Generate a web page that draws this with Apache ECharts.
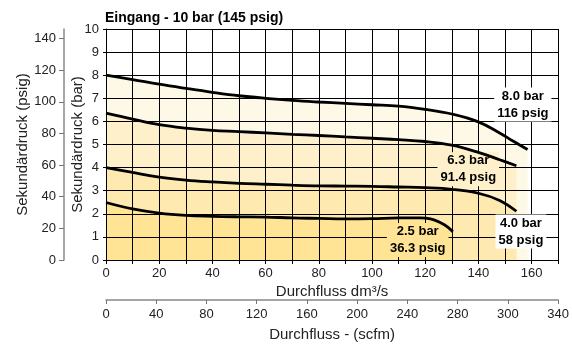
<!DOCTYPE html>
<html><head><meta charset="utf-8">
<script src="https://cdn.jsdelivr.net/npm/echarts@6/dist/echarts.min.js"></script>
<style>html,body{margin:0;padding:0;background:#fff}#c{width:572px;height:347px}</style>
</head><body><div id="c"></div>
<script>
// Flow (dm³/s) vs secondary pressure (bar) curves
const curve80 = [[0,8.0],[10,7.81],[20,7.61],[30,7.43],[40,7.26],[50,7.11],[60,7.0],[70,6.91],[80,6.84],[90,6.78],[100,6.72],[110,6.66],[120,6.52],[130,6.32],[140,5.98],[148,5.5],[153,5.15],[158.5,4.78]];
const curve63 = [[0,6.36],[10,6.1],[20,5.86],[30,5.71],[40,5.61],[50,5.56],[60,5.5],[70,5.44],[80,5.39],[90,5.33],[100,5.27],[110,5.21],[120,5.13],[130,4.97],[140,4.66],[148,4.34],[154.3,4.08]];
const curve40 = [[0,4.0],[10,3.79],[20,3.59],[30,3.46],[40,3.38],[50,3.32],[60,3.28],[70,3.24],[80,3.21],[90,3.2],[100,3.19],[110,3.16],[120,3.13],[130,3.06],[140,2.89],[148,2.58],[154.3,2.11]];
const curve25 = [[0,2.49],[10,2.21],[20,2.03],[30,1.93],[40,1.89],[50,1.87],[60,1.86],[70,1.82],[80,1.8],[90,1.78],[100,1.79],[110,1.82],[118,1.82],[122,1.78],[126,1.6],[128.5,1.42],[130.4,1.22]];
const curveNames = ['8.0 bar', '6.3 bar', '4.0 bar', '2.5 bar'];
const curveLabels = ['8.0 bar\n116 psig', '6.3 bar\n91.4 psig', '4.0 bar\n58 psig', '2.5 bar\n36.3 psig'];
const flowTickLabels = [0, 20, 40, 60, 80, 100, 120, 140, 160];
const psigTickLabels = [0, 20, 40, 60, 80, 100, 120, 140];
const scfmTickLabels = ['0', '40', '80', '120', '160', '200', '240', '280', '300', '340'];
const titleText = 'Eingang - 10 bar (145 psig)';

// annotation anchors (data coords) and styling
const labelAnchors = [[156.7, 6.73], [136.2, 3.93], [156.0, 1.23], [117.2, 0.87]];
const fillColors = ['#fef8e6', '#fef0cb', '#feeab0', '#fee494'];
const labelBg = ['#ffffff', '#fef0cb', '#ffffff', '#fee494'];

const FONT = '"Liberation Sans", Arial, Helvetica, sans-serif';
const curves = [curve80, curve63, curve40, curve25];
const SMOOTH = 0.4;

const series = [];
curves.forEach((c, i) => {
  series.push({
    type: 'line', name: curveNames[i] + ' fill', data: c, smooth: SMOOTH,
    showSymbol: false, silent: true, z: 1,
    lineStyle: { width: 0, opacity: 0 },
    areaStyle: { color: fillColors[i], opacity: 1 }
  });
});
curves.forEach((c, i) => {
  series.push({
    type: 'line', name: curveNames[i], data: c, smooth: SMOOTH,
    showSymbol: false, silent: true, z: 6,
    lineStyle: { width: 2.8, color: '#000' }
  });
});

const chart = echarts.init(document.getElementById('c'), null, { renderer: 'canvas' });
chart.setOption({
  animation: false,
  backgroundColor: '#fff',
  textStyle: { fontFamily: FONT },
  title: {
    text: titleText, left: 100, top: 6,
    textStyle: { fontFamily: FONT, fontSize: 14, fontWeight: 'bold', color: '#000' }
  },
  grid: { left: 106, top: 29, width: 455, height: 236 },
  xAxis: [{
    type: 'value', min: 0, max: 170, interval: 10, z: 3,
    axisLine: { show: true, onZero: false, lineStyle: { color: '#000', width: 1 } },
    axisTick: { show: true, length: 4, lineStyle: { color: '#000' } },
    axisLabel: { customValues: flowTickLabels, fontFamily: FONT, fontSize: 13, color: '#222', margin: 7 },
    splitLine: { show: true, lineStyle: { color: '#000', width: 1 } },
    name: 'Durchfluss dm³/s', nameLocation: 'middle', nameGap: 24, nameMoveOverlap: false,
    nameTextStyle: { fontFamily: FONT, fontSize: 15, color: '#222' }
  }, {
    type: 'category', data: scfmTickLabels, boundaryGap: false, position: 'bottom', offset: 40,
    axisLine: { show: true, onZero: false, lineStyle: { color: '#888', width: 1.5 } },
    axisTick: { show: true, length: 4, alignWithLabel: true, lineStyle: { color: '#777' } },
    axisLabel: { fontFamily: FONT, fontSize: 13, color: '#222', margin: 8 },
    splitLine: { show: false },
    name: 'Durchfluss - (scfm)', nameLocation: 'middle', nameGap: 27, nameMoveOverlap: false,
    nameTextStyle: { fontFamily: FONT, fontSize: 15, color: '#222' }
  }],
  yAxis: [{
    type: 'value', min: 0, max: 10, interval: 1, position: 'left', z: 3,
    axisLine: { show: true, onZero: false, lineStyle: { color: '#000', width: 1 } },
    axisTick: { show: true, length: 3, lineStyle: { color: '#000' } },
    axisLabel: { fontFamily: FONT, fontSize: 13, color: '#222', margin: 7 },
    splitLine: { show: true, lineStyle: { color: '#000', width: 1 } },
    name: 'Sekundärdruck (bar)', nameLocation: 'middle', nameGap: 21, nameMoveOverlap: false,
    nameTextStyle: { fontFamily: FONT, fontSize: 15, color: '#222' }
  }, {
    type: 'value', min: 0, max: 146, position: 'left', offset: 42,
    axisLine: { show: true, onZero: false, lineStyle: { color: '#888', width: 1.5 } },
    axisTick: { show: true, length: 5, customValues: psigTickLabels, lineStyle: { color: '#777' } },
    axisLabel: { customValues: psigTickLabels, fontFamily: FONT, fontSize: 13, color: '#222', margin: 8 },
    splitLine: { show: false },
    name: 'Sekundärdruck (psig)', nameLocation: 'middle', nameGap: 34, nameMoveOverlap: false,
    nameTextStyle: { fontFamily: FONT, fontSize: 15, color: '#222' }
  }],
  series: series
});

// curve annotations placed at data coordinates (above gridlines, below curves)
const graphics = labelAnchors.map((p, i) => {
  const px = chart.convertToPixel({ xAxisIndex: 0, yAxisIndex: 0 }, p);
  return {
    type: 'text', x: px[0], y: px[1], z: 4, silent: true,
    style: {
      text: curveLabels[i], font: 'bold 13px ' + FONT, fill: '#000',
      align: 'center', verticalAlign: 'middle', lineHeight: 17,
      backgroundColor: labelBg[i], padding: [0, 3, 0, 3]
    }
  };
});
chart.setOption({ graphic: graphics });
</script></body></html>
